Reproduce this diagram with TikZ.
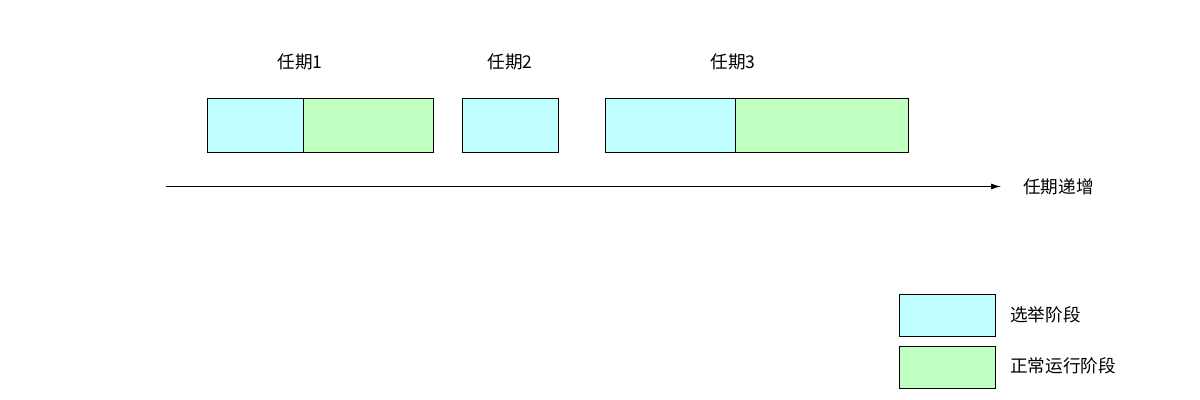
\documentclass[tikz,border=0pt]{standalone}
\usepackage{fontspec}
\setmainfont{Noto Sans CJK SC}
\usetikzlibrary{arrows.meta}
\definecolor{elect}{HTML}{C0FFFF}
\definecolor{normal}{HTML}{C0FFC0}
\begin{document}
\begin{tikzpicture}[x=0.75pt,y=-0.75pt,
  phase/.style={draw=black,line width=0.75pt,inner sep=0pt,anchor=north west},
  lbl/.style={font=\fontsize{13.2}{15}\selectfont,inner sep=0pt}]
\useasboundingbox[fill=white] (0,0) rectangle (1200,400);
% term 1
\node[phase,fill=elect,minimum width=96*0.75pt,minimum height=54*0.75pt] (e1) at (207.3,98.3) {};
\node[phase,fill=normal,minimum width=130*0.75pt,minimum height=54*0.75pt] (n1) at (303.3,98.3) {};
% term 2
\node[phase,fill=elect,minimum width=96*0.75pt,minimum height=54*0.75pt] (e2) at (462.3,98.3) {};
% term 3
\node[phase,fill=elect,minimum width=130*0.75pt,minimum height=54*0.75pt] (e3) at (605.3,98.3) {};
\node[phase,fill=normal,minimum width=173*0.75pt,minimum height=54*0.75pt] (n3) at (735.3,98.3) {};
% labels
\node[lbl] (t1) at (300,62) {任期1};
\node[lbl] (t2) at (510,62) {任期2};
\node[lbl] (t3) at (733,62) {任期3};
% axis
\coordinate (a0) at (166,186.5);
\coordinate (a1) at (1001,186.5);
\draw[line width=0.75pt,-{Latex[length=7.5pt,width=4.5pt]}] (a0) -- (a1);
\node[lbl,anchor=west] (ax) at (1023,187) {任期递增};
% legend
\node[phase,fill=elect,minimum width=96*0.75pt,minimum height=42*0.75pt] (le) at (899.3,294.3) {};
\node[phase,fill=normal,minimum width=96*0.75pt,minimum height=42*0.75pt] (ln) at (899.3,346) {};
\node[lbl,anchor=west] (lt1) at (1010,314.5) {选举阶段};
\node[lbl,anchor=west] (lt2) at (1010,365.5) {正常运行阶段};
\end{tikzpicture}
\end{document}
